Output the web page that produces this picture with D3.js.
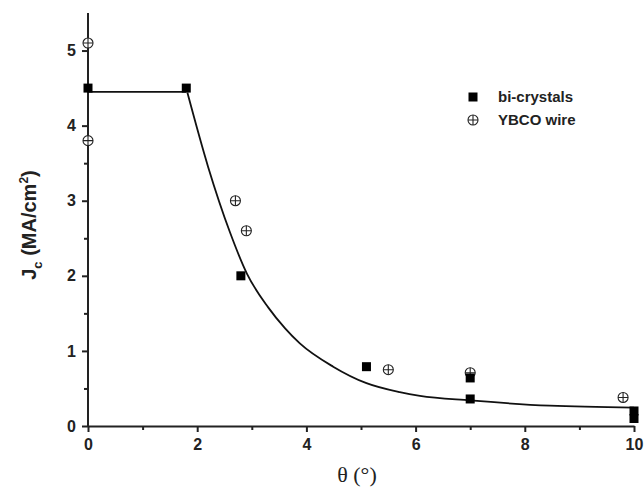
<!DOCTYPE html>
<html>
<head>
<meta charset="utf-8">
<script src="https://cdn.jsdelivr.net/npm/d3@7"></script>
<style>
  body { margin: 0; background: #fff; }
  text { font-family: Arial, "Liberation Sans", sans-serif; }
</style>
</head>
<body>
<svg id="chart" width="644" height="488"></svg>
<script>
// bi-crystal measurements
const crystalTheta = [0, 1.8, 2.8, 5.1, 7, 7, 10, 10];
const crystalJc = [4.5, 4.5, 2.0, 0.79, 0.64, 0.36, 0.2, 0.1];

// YBCO wire measurements
const wireTheta = [0, 0, 2.7, 2.9, 5.5, 7, 9.8];
const wireJc = [5.1, 3.8, 3.0, 2.6, 0.75, 0.71, 0.38];

// fitted curve
const plateauTheta = [0, 1.8];
const plateauJc = [4.45, 4.45];
const decayTheta = [1.82, 2.2, 2.6, 2.91, 3.3, 3.61, 3.88, 4.49, 5.1, 5.71, 6.08, 7.0, 8.46, 10];
const decayJc = [4.44, 3.45, 2.58, 2.03, 1.58, 1.30, 1.10, 0.79, 0.57, 0.45, 0.40, 0.34, 0.27, 0.245];

const xTicks = [0, 2, 4, 6, 8, 10];
const yTicks = [0, 1, 2, 3, 4, 5];
const legendLabels = ['bi-crystals', 'YBCO wire'];

const svg = d3.select('#chart');
const x = d3.scaleLinear().domain([0, 10]).range([88, 634]);
const y = d3.scaleLinear().domain([0, 5.5]).range([426, 13]);

// axes
const xAxis = svg.append('g').attr('transform', 'translate(0,' + y(0) + ')')
    .call(d3.axisBottom(x).tickValues(d3.range(0, 10.01, 1)).tickSize(6).tickSizeOuter(0)
        .tickFormat(d => xTicks.indexOf(d) >= 0 ? d : ''));
xAxis.selectAll('.tick line').attr('y2', d => xTicks.indexOf(d) >= 0 ? 6 : 4);

const yAxis = svg.append('g').attr('transform', 'translate(' + x(0) + ',0)')
    .call(d3.axisLeft(y).tickValues(d3.range(0, 5.01, 0.5)).tickSize(6).tickSizeOuter(0)
        .tickFormat(d => yTicks.indexOf(d) >= 0 ? d : ''));
yAxis.selectAll('.tick line').attr('x2', d => yTicks.indexOf(d) >= 0 ? -6 : -4);

[xAxis, yAxis].forEach(a => {
    a.select('.domain').attr('stroke', '#222').attr('stroke-width', 2);
    a.selectAll('.tick line').attr('stroke', '#222').attr('stroke-width', 2);
    a.selectAll('.tick text').attr('fill', '#222')
        .style('font-size', '16px').style('font-weight', 'bold');
});
xAxis.selectAll('.tick text').attr('y', 13);
yAxis.selectAll('.tick text').attr('x', -12);
// extend the y axis up to the top of the domain
yAxis.select('.domain').attr('d', 'M0,' + y(0) + 'V' + y(5.5));

// axis titles
svg.append('text')
    .attr('transform', 'translate(36,225) rotate(-90)')
    .attr('text-anchor', 'middle')
    .style('font-size', '20px').style('font-weight', 'bold').attr('fill', '#222')
    .html('J<tspan dy="6" font-size="13px">c</tspan><tspan dy="-6"> (MA/cm</tspan><tspan dy="-8" font-size="12px">2</tspan><tspan dy="8">)</tspan>');

svg.append('text')
    .attr('x', 357).attr('y', 482)
    .attr('text-anchor', 'middle')
    .style('font-family', '"Liberation Serif", "Times New Roman", serif')
    .style('font-size', '22px').attr('fill', '#222')
    .text('\u03B8 (\u00B0)');

// fitted curve
const line = d3.line().x(d => x(d[0])).y(d => y(d[1]));
svg.append('path')
    .attr('d', line(d3.zip(plateauTheta, plateauJc)))
    .attr('fill', 'none').attr('stroke', '#111').attr('stroke-width', 1.8);
svg.append('path')
    .attr('d', line.curve(d3.curveMonotoneX)(d3.zip(decayTheta, decayJc)))
    .attr('fill', 'none').attr('stroke', '#111').attr('stroke-width', 1.8);

// markers
const sq = 9;
function drawSquare(g, cx, cy) {
    g.append('rect')
        .attr('x', cx - sq / 2).attr('y', cy - sq / 2)
        .attr('width', sq).attr('height', sq)
        .attr('fill', '#000');
}
function drawWire(g, cx, cy) {
    const r = 5;
    g.append('circle').attr('cx', cx).attr('cy', cy).attr('r', r)
        .attr('fill', '#fff').attr('stroke', '#222').attr('stroke-width', 1.1);
    g.append('path')
        .attr('d', 'M' + (cx - r) + ',' + cy + 'H' + (cx + r) + 'M' + cx + ',' + (cy - r) + 'V' + (cy + r))
        .attr('stroke', '#222').attr('stroke-width', 1.1);
}

const marks = svg.append('g');
wireTheta.forEach((t, i) => drawWire(marks, x(t), y(wireJc[i])));
crystalTheta.forEach((t, i) => drawSquare(marks, x(t), y(crystalJc[i])));

// legend
const legend = svg.append('g');
drawSquare(legend, 473, 97);
drawWire(legend, 473, 120);
legendLabels.forEach((d, i) => {
    legend.append('text')
        .attr('x', 498).attr('y', 102 + i * 23)
        .style('font-size', '15px').style('font-weight', 'bold').attr('fill', '#222')
        .text(d);
});
</script>
</body>
</html>
